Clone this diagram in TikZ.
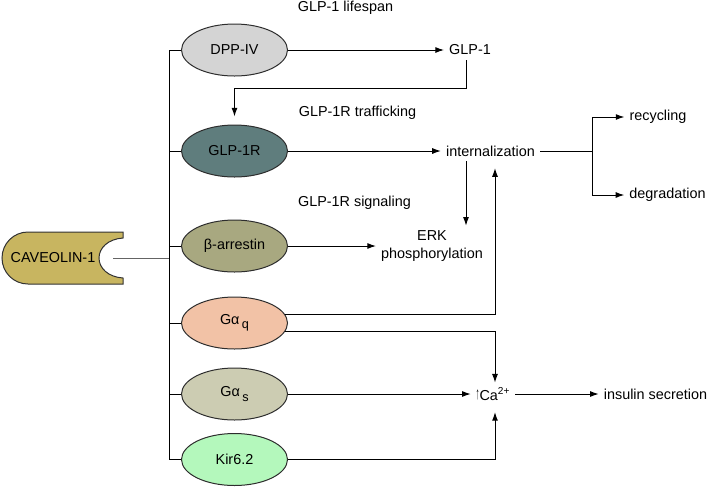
\documentclass[tikz,border=0pt]{standalone}
\usepackage{fontspec}
\setmainfont{Liberation Sans}
\usetikzlibrary{shapes.geometric,arrows.meta}
\tikzset{
	prot/.style={draw={rgb, 255:red, 45; green, 45; blue, 45 }, ellipse, minimum width=79.5pt, minimum height=39pt, inner sep=0pt},
	txt/.style={inner sep=3.5pt, align=center},
	arr/.style={-{Latex[length=6.5pt,width=4.5pt]}}}
\tikzset{every picture/.style={line width=0.75pt}}
\newcommand{\gsub}[1]{\,\raisebox{-0.55ex}{\fontsize{9.5}{10}\selectfont #1}}

\begin{document}
\begin{tikzpicture}[x=0.75pt,y=0.75pt,yscale=-1,xscale=1,font=\fontsize{10.8}{13}\selectfont]
	\useasboundingbox (0,0) rectangle (708,487);

	%Shape: Caveolin
	\draw  [draw={rgb, 255:red, 50; green, 50; blue, 50 }][fill={rgb, 255:red, 200; green, 181; blue, 96 }  ,fill opacity=1 ] (28,232) -- (123,232) -- (123,238) .. controls (108,239) and (99,248) .. (99,258) .. controls (99,268) and (108,277) .. (123,278) -- (123,284) -- (28,284) .. controls (13.64,284) and (2,272.36) .. (2,258) .. controls (2,243.64) and (13.64,232) .. (28,232) -- cycle ;
	% Text Node
	\node (cav) at (53,258) {CAVEOLIN-1};

	%Shape: Ellipse
	\node [prot, fill={rgb, 255:red, 212; green, 212; blue, 212 }] (dpp) at (234.5,50) {DPP-IV};
	%Shape: Ellipse
	\node [prot, fill={rgb, 255:red, 95; green, 125; blue, 125 }] (glpr) at (234.5,151) {GLP-1R};
	%Shape: Ellipse
	\node [prot, fill={rgb, 255:red, 168; green, 168; blue, 128 }] (barr) at (234.5,246) {β-arrestin};
	%Shape: Ellipse
	\node [prot, fill={rgb, 255:red, 242; green, 194; blue, 166 }] (gq) at (234.5,323) {Gα\gsub{q}};
	%Shape: Ellipse
	\node [prot, fill={rgb, 255:red, 204; green, 204; blue, 178 }] (gs) at (234.5,394) {Gα\gsub{s}};
	%Shape: Ellipse
	\node [prot, fill={rgb, 255:red, 180; green, 248; blue, 188 }] (kir) at (234.5,459.5) {Kir6.2};

	% Text Node
	\node [txt] (span) at (345.5,8) {GLP-1 lifespan};
	% Text Node
	\node [txt] (glp1) at (470,50) {GLP-1};
	% Text Node
	\node [txt] (traf) at (357.5,113) {GLP-1R trafficking};
	% Text Node
	\node [txt] (intz) at (490.5,151) {internalization};
	% Text Node
	\node [txt] (sig) at (354.5,203) {GLP-1R signaling};
	% Text Node
	\node [txt] (erk) at (432,246) {ERK\\phosphorylation};
	% Text Node
	\node [txt] (rec) at (658,117) {recycling};
	% Text Node
	\node [txt] (deg) at (667.5,195) {degradation};
	% Text Node
	\node [txt] (ca) at (493,394) {\raisebox{0.1ex}{\scalebox{0.5}[1.2]{↑}}Ca\textsuperscript{2+}};
	% Text Node
	\node [txt] (ins) at (655.5,394) {insulin secretion};

	% Bend points
	\coordinate (bar) at (169,0);
	\coordinate (kink) at (466,88);
	\coordinate (colB) at (495,0);
	\coordinate (colC) at (592,0);
	\coordinate (cavtip) at (113,258);

	%Straight Lines
	\draw (dpp.west) -- (dpp.west -| bar) -- (kir.west -| bar) -- (kir.west);
	\draw (glpr.west) -- (glpr.west -| bar);
	\draw (barr.west) -- (barr.west -| bar);
	\draw (gq.west) -- (gq.west -| bar);
	\draw (gs.west) -- (gs.west -| bar);
	\draw [draw={rgb, 255:red, 100; green, 100; blue, 100 }] (cavtip) -- (cavtip -| bar);

	%Arrows
	\draw [arr] (dpp.east) -- (glp1.west);
	\draw [arr, shorten >=6pt] (glp1.south -| kink) -- (kink) -| (glpr.north);
	\draw [arr] (glpr.east) -- (intz.west);
	\draw [arr] (intz.south -| kink) -- (erk.north -| kink);
	\draw [arr] (barr.east) -- (erk.west |- barr.east);
	\draw (intz.east) -- (intz.east -| colC);
	\draw [arr] (intz.east -| colC) |- (rec.west);
	\draw [arr] (intz.east -| colC) |- (deg.west);
	\draw [arr, shorten >=5pt] (gq.10) -| (intz.south -| colB);
	\draw [arr] (gq.-10) -| (ca.north -| colB);
	\draw [arr] (gs.east) -- (ca.west |- gs.east);
	\draw [arr, shorten >=5pt] (kir.east) -| (ca.south -| colB);
	\draw [arr] (ca.east) -- (ins.west);

\end{tikzpicture}
\end{document}
